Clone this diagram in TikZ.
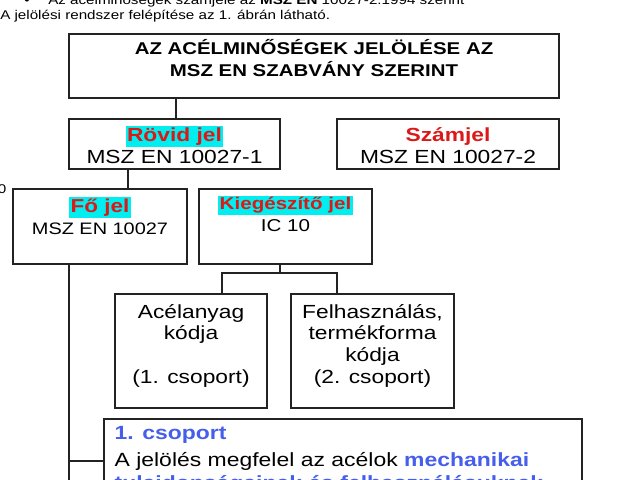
\documentclass[tikz,border=0pt]{standalone}
\usepackage{fontspec}
\setmainfont{Liberation Sans}[FakeStretch=1.2]
\definecolor{jelred}{RGB}{220,25,25}
\definecolor{jelcyan}{RGB}{0,238,240}
\definecolor{jelblue}{RGB}{70,95,235}
\definecolor{keret}{RGB}{35,35,35}
\newcommand{\kiemel}[1]{{\fboxsep=1pt\colorbox{jelcyan}{#1}}}
\tikzstyle{box} = [rectangle, draw=keret, line width=1.1pt, inner sep=0pt]
\tikzstyle{titlebox} = [box, line width=1.4pt]
\tikzstyle{btext} = [inner sep=0pt, align=center, anchor=north]
\tikzstyle{toptext} = [inner sep=0pt, font=\fontsize{9}{11}\selectfont]
\tikzstyle{line} = [draw=keret, line width=1.3pt]

\begin{document}
\begin{tikzpicture}[x=0.025cm, y=-0.025cm]
\useasboundingbox (0,0) rectangle (640,480);

% lines of the page above the figure
\node [toptext, anchor=base] (pont) at (27,5) {\textbullet};
\node [toptext, anchor=base west] (elso) at (48,5) {Az acélminőségek számjele az \textbf{MSZ EN} 10027-2:1994 szerint};
\node [toptext, anchor=base west] (masodik) at (0,19.3) {A jelölési rendszer felépítése az 1. ábrán látható.};
\node [toptext] (nulla) at (2,189) {0};

% boxes
\node [titlebox, minimum width=12.25cm, minimum height=1.6cm,
       label={[btext, yshift=-3.6pt, font=\fontsize{12.1}{15.9}\selectfont\bfseries]90:{\strut AZ ACÉLMINŐSÉGEK JELÖLÉSE AZ\\MSZ EN SZABVÁNY SZERINT}}] (title) at (314,66) {};
\node [box, minimum width=5.275cm, minimum height=1.25cm,
       label={[btext, yshift=-5.2pt, font=\fontsize{13.5}{15.6}\selectfont]90:{{\bfseries\color{jelred}\strut\kiemel{Rövid jel}}\\MSZ EN 10027-1}}] (rovid) at (174.5,144) {};
\node [box, minimum width=5.55cm, minimum height=1.25cm,
       label={[btext, yshift=-5.2pt, font=\fontsize{13.5}{15.6}\selectfont]90:{{\bfseries\color{jelred}\strut Számjel}\\MSZ EN 10027-2}}] (szam) at (448,144) {};
\node [box, minimum width=4.35cm, minimum height=1.875cm,
       label={[btext, yshift=-6pt, font=\fontsize{11.8}{15.6}\selectfont]90:{{\fontsize{13.3}{15.6}\selectfont\bfseries\color{jelred}\strut\kiemel{Fő jel}}\\MSZ EN 10027}}] (fo) at (100,226.5) {};
\node [box, minimum width=4.325cm, minimum height=1.875cm,
       label={[btext, yshift=-4.1pt, font=\fontsize{12.2}{15.6}\selectfont]90:{{\bfseries\color{jelred}\strut\kiemel{Kiegészítő jel}}\\IC 10}}] (kieg) at (285.5,226.5) {};
\node [box, minimum width=3.8cm, minimum height=2.85cm,
       label={[btext, yshift=-6.7pt, font=\fontsize{13.5}{15.4}\selectfont]90:{\strut Acélanyag\\kódja\\\mbox{}\\(1. csoport)}}] (acel) at (191,351) {};
\node [box, minimum width=4.075cm, minimum height=2.85cm,
       label={[btext, yshift=-6.7pt, font=\fontsize{13.5}{15.4}\selectfont]90:{\strut Felhasználás,\\termékforma\\kódja\\(2. csoport)}}] (felh) at (372.5,351) {};
\node [box, minimum width=11.95cm, minimum height=3.025cm,
       label={[btext, anchor=north west, align=left, xshift=-162.6pt, yshift=-2.9pt, font=\fontsize{13.6}{17}\selectfont]90:{{\bfseries\color{jelblue}\strut 1. csoport}\\[2pt]A jelölés megfelel az acélok {\bfseries\color{jelblue}mechanikai}\\{\bfseries\color{jelblue}tulajdonságainak és felhasználásuknak}}}] (csop) at (343,479.5) {};

% connectors
\coordinate (tx) at (176,0);
\coordinate (rx) at (128,0);
\coordinate (kx) at (280,273);
\coordinate (ka) at (222,273);
\coordinate (kf) at (337,273);
\coordinate (fx) at (69,461);
\coordinate (fe) at (69,520);

\path [line] (title.south -| tx) -- (rovid.north -| tx);
\path [line] (rovid.south -| rx) -- (fo.north -| rx);
\path [line] (kieg.south -| kx) -- (kx);
\path [line] (acel.north -| ka) -- (ka) -- (kf) -- (felh.north -| kf);
\path [line] (fo.south -| fx) -- (fe);
\path [line] (fx) -- (csop.west |- fx);
\end{tikzpicture}
\end{document}
